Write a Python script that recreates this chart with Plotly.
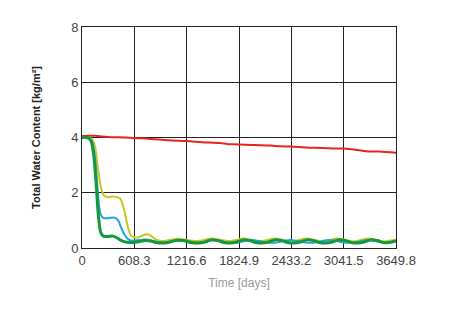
import plotly.graph_objects as go

x_ticks = [0, 608.3, 1216.6, 1824.9, 2433.2, 3041.5, 3649.8]
x_tick_labels = ["0", "608.3", "1216.6", "1824.9", "2433.2", "3041.5", "3649.8"]

red_t = [0, 150, 300, 500, 608, 800, 1000, 1216, 1400, 1600, 1700, 1824, 2000, 2200, 2300, 2433, 2600, 2800, 2950, 3041, 3200, 3300, 3450, 3649.8]
red_v = [4.05, 4.06, 4.02, 4.0, 3.98, 3.95, 3.9, 3.87, 3.83, 3.8, 3.76, 3.75, 3.73, 3.71, 3.68, 3.67, 3.64, 3.62, 3.6, 3.6, 3.55, 3.5, 3.49, 3.45]

yel_t = [0, 60, 110, 150, 180, 220, 260, 300, 380, 440, 480, 530, 570, 600, 650, 700, 760, 800, 860, 920, 1000, 1100, 1200, 1300, 1400, 1500, 1600, 1700, 1780, 1870, 1960, 2050, 2140, 2230, 2320, 2420, 2510, 2600, 2690, 2780, 2870, 2960, 3050, 3140, 3230, 3320, 3410, 3500, 3590, 3649.8]
yel_v = [4.0, 4.0, 3.95, 3.7, 3.0, 2.2, 1.88, 1.85, 1.86, 1.8, 1.5, 0.8, 0.45, 0.4, 0.38, 0.45, 0.5, 0.45, 0.3, 0.25, 0.28, 0.33, 0.3, 0.25, 0.28, 0.34, 0.3, 0.25, 0.28, 0.34, 0.3, 0.25, 0.28, 0.34, 0.3, 0.24, 0.28, 0.34, 0.3, 0.24, 0.28, 0.34, 0.3, 0.24, 0.28, 0.34, 0.3, 0.24, 0.27, 0.3]

blu_t = [0, 60, 110, 150, 180, 210, 240, 300, 380, 420, 460, 510, 560, 620, 700, 760, 820, 880, 960, 1060, 1150, 1250, 1330, 1420, 1510, 1600, 1700, 1790, 1880, 1970, 2060, 2150, 2240, 2330, 2420, 2510, 2600, 2690, 2780, 2870, 2960, 3050, 3140, 3230, 3320, 3410, 3500, 3590, 3649.8]
blu_v = [4.0, 4.0, 3.9, 3.3, 2.2, 1.3, 1.1, 1.08, 1.1, 1.0, 0.7, 0.4, 0.28, 0.27, 0.3, 0.3, 0.25, 0.22, 0.2, 0.25, 0.27, 0.21, 0.19, 0.22, 0.28, 0.26, 0.2, 0.19, 0.24, 0.29, 0.25, 0.2, 0.19, 0.24, 0.29, 0.25, 0.2, 0.19, 0.24, 0.29, 0.25, 0.2, 0.19, 0.24, 0.29, 0.25, 0.2, 0.22, 0.26]

grn_t = [0, 60, 100, 130, 160, 190, 220, 250, 300, 360, 400, 440, 500, 560, 620, 680, 740, 800, 860, 920, 1000, 1100, 1180, 1270, 1350, 1430, 1510, 1580, 1650, 1720, 1800, 1880, 1950, 2020, 2090, 2170, 2250, 2320, 2390, 2460, 2540, 2620, 2690, 2760, 2830, 2910, 2990, 3060, 3130, 3200, 3280, 3360, 3430, 3500, 3570, 3649.8]
grn_v = [4.0, 4.0, 3.9, 3.5, 2.5, 1.2, 0.55, 0.43, 0.42, 0.43, 0.38, 0.3, 0.22, 0.2, 0.21, 0.24, 0.27, 0.25, 0.2, 0.18, 0.2, 0.28, 0.27, 0.2, 0.18, 0.22, 0.3, 0.27, 0.2, 0.18, 0.22, 0.3, 0.27, 0.2, 0.18, 0.22, 0.3, 0.27, 0.2, 0.18, 0.22, 0.3, 0.27, 0.2, 0.18, 0.22, 0.3, 0.27, 0.2, 0.18, 0.22, 0.3, 0.27, 0.2, 0.2, 0.26]

fig = go.Figure()
fig.add_trace(go.Scatter(x=red_t, y=red_v, mode="lines", line=dict(color="#e8231c", width=2, shape="spline")))
fig.add_trace(go.Scatter(x=yel_t, y=yel_v, mode="lines", line=dict(color="#c9c71e", width=2, shape="spline")))
fig.add_trace(go.Scatter(x=blu_t, y=blu_v, mode="lines", line=dict(color="#1fa6d6", width=2, shape="spline")))
fig.add_trace(go.Scatter(x=grn_t, y=grn_v, mode="lines", line=dict(color="#14983c", width=3, shape="spline")))

fig.update_layout(
    width=441, height=301,
    margin=dict(l=74, r=53, t=15, b=61),
    paper_bgcolor="white",
    plot_bgcolor="white",
    showlegend=False,
    font=dict(family="Liberation Sans, Arial, sans-serif", size=13, color="#444"),
    xaxis=dict(
        range=[0, 3649.8], tickvals=x_ticks, ticktext=x_tick_labels,
        showgrid=True, gridcolor="#222", gridwidth=1,
        showline=True, linecolor="#222", linewidth=1, mirror=True,
        zeroline=False, ticks="",
        tickfont=dict(size=13, color="#444"),
        title=dict(text="Time [days]", font=dict(size=12, color="#999"), standoff=12),
    ),
    yaxis=dict(
        range=[0, 8], tickvals=[0, 2, 4, 6, 8],
        showgrid=True, gridcolor="#222", gridwidth=1,
        showline=True, linecolor="#222", linewidth=1, mirror=True,
        zeroline=False, ticks="",
        tickfont=dict(size=13, color="#444"),
        title=dict(text="<b>Total Water Content [kg/m²]</b>", font=dict(size=11, color="#222"), standoff=28),
    ),
)

fig.write_html("out.html")
